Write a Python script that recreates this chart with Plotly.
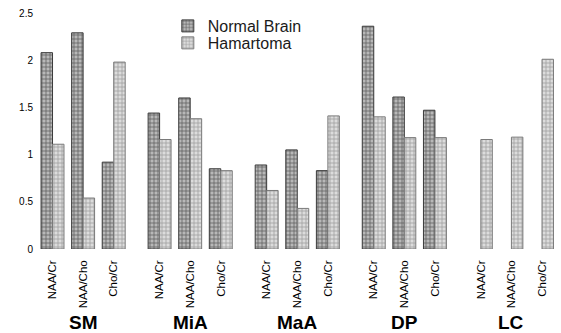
import plotly.graph_objects as go

groups = ["SM", "MiA", "MaA", "DP", "LC"]
ratios = ["NAA/Cr", "NAA/Cho", "Cho/Cr"]

normal_brain = [2.08, 2.29, 0.92,
                1.44, 1.60, 0.85,
                0.89, 1.05, 0.83,
                2.36, 1.61, 1.47,
                None, None, None]
hamartoma = [1.11, 0.54, 1.98,
             1.16, 1.38, 0.83,
             0.62, 0.43, 1.41,
             1.40, 1.18, 1.18,
             1.16, 1.185, 2.01]

y_ticks = [0, 0.5, 1, 1.5, 2, 2.5]
y_tick_text = ["0", "0.5", "1", "1.5", "2", "2.5"]

GROUP_STEP = 3.5
xpos = []
xlabels = []
for g, grp in enumerate(groups):
    for i, r in enumerate(ratios):
        xpos.append(g * GROUP_STEP + i)
        xlabels.append(r)

FONT = "Liberation Sans, Arial, sans-serif"

fig = go.Figure()
fig.add_trace(go.Bar(
    x=xpos, y=normal_brain, name="Normal Brain", legend="legend",
    marker=dict(color="#b8b8b8",
                line=dict(color="#3a3a3a", width=1),
                pattern=dict(shape="+", size=4, solidity=0.35,
                             fgcolor="#606060", bgcolor="#b8b8b8",
                             fillmode="replace")),
))
fig.add_trace(go.Bar(
    x=xpos, y=hamartoma, name="Hamartoma", legend="legend2",
    marker=dict(color="#dcdcdc",
                line=dict(color="#7a7a7a", width=1),
                pattern=dict(shape="+", size=4, solidity=0.35,
                             fgcolor="#9c9c9c", bgcolor="#dcdcdc",
                             fillmode="replace")),
))

for g, grp in enumerate(groups):
    fig.add_annotation(x=g * GROUP_STEP + 1, y=-0.31, xref="x", yref="paper",
                       text=f"<b>{grp}</b>", showarrow=False,
                       font=dict(family=FONT, size=19, color="#000"),
                       xanchor="center", yanchor="middle")

legend_common = dict(x=0.253, xanchor="left", yanchor="middle",
                     bgcolor="rgba(0,0,0,0)", borderwidth=0,
                     font=dict(family=FONT, size=16, color="#1a1a1a"))

fig.update_layout(
    width=561, height=333,
    margin=dict(l=36, r=4, t=13, b=84, autoexpand=False),
    paper_bgcolor="white", plot_bgcolor="white",
    barmode="group", bargap=0.25, bargroupgap=0,
    showlegend=True,
    legend=dict(y=0.945, **legend_common),
    legend2=dict(y=0.873, **legend_common),
    xaxis=dict(range=[-0.54, 16.49], tickmode="array", tickvals=xpos,
               ticktext=xlabels, tickangle=-90, showgrid=False,
               zeroline=False, showline=False, ticks="",
               ticklabelstandoff=8, automargin=False,
               tickfont=dict(family=FONT, size=11.5, color="#000")),
    yaxis=dict(range=[0, 2.5], tickmode="array", tickvals=y_ticks,
               ticktext=y_tick_text, showgrid=False, zeroline=False,
               showline=False, ticks="", automargin=False,
               ticklabelstandoff=2,
               tickfont=dict(family=FONT, size=10, color="#000")),
    font=dict(family=FONT),
)

fig.write_html("out.html", config={"displayModeBar": False},
               post_script="document.body.style.margin='0';"
                           "document.body.style.overflow='hidden';")
